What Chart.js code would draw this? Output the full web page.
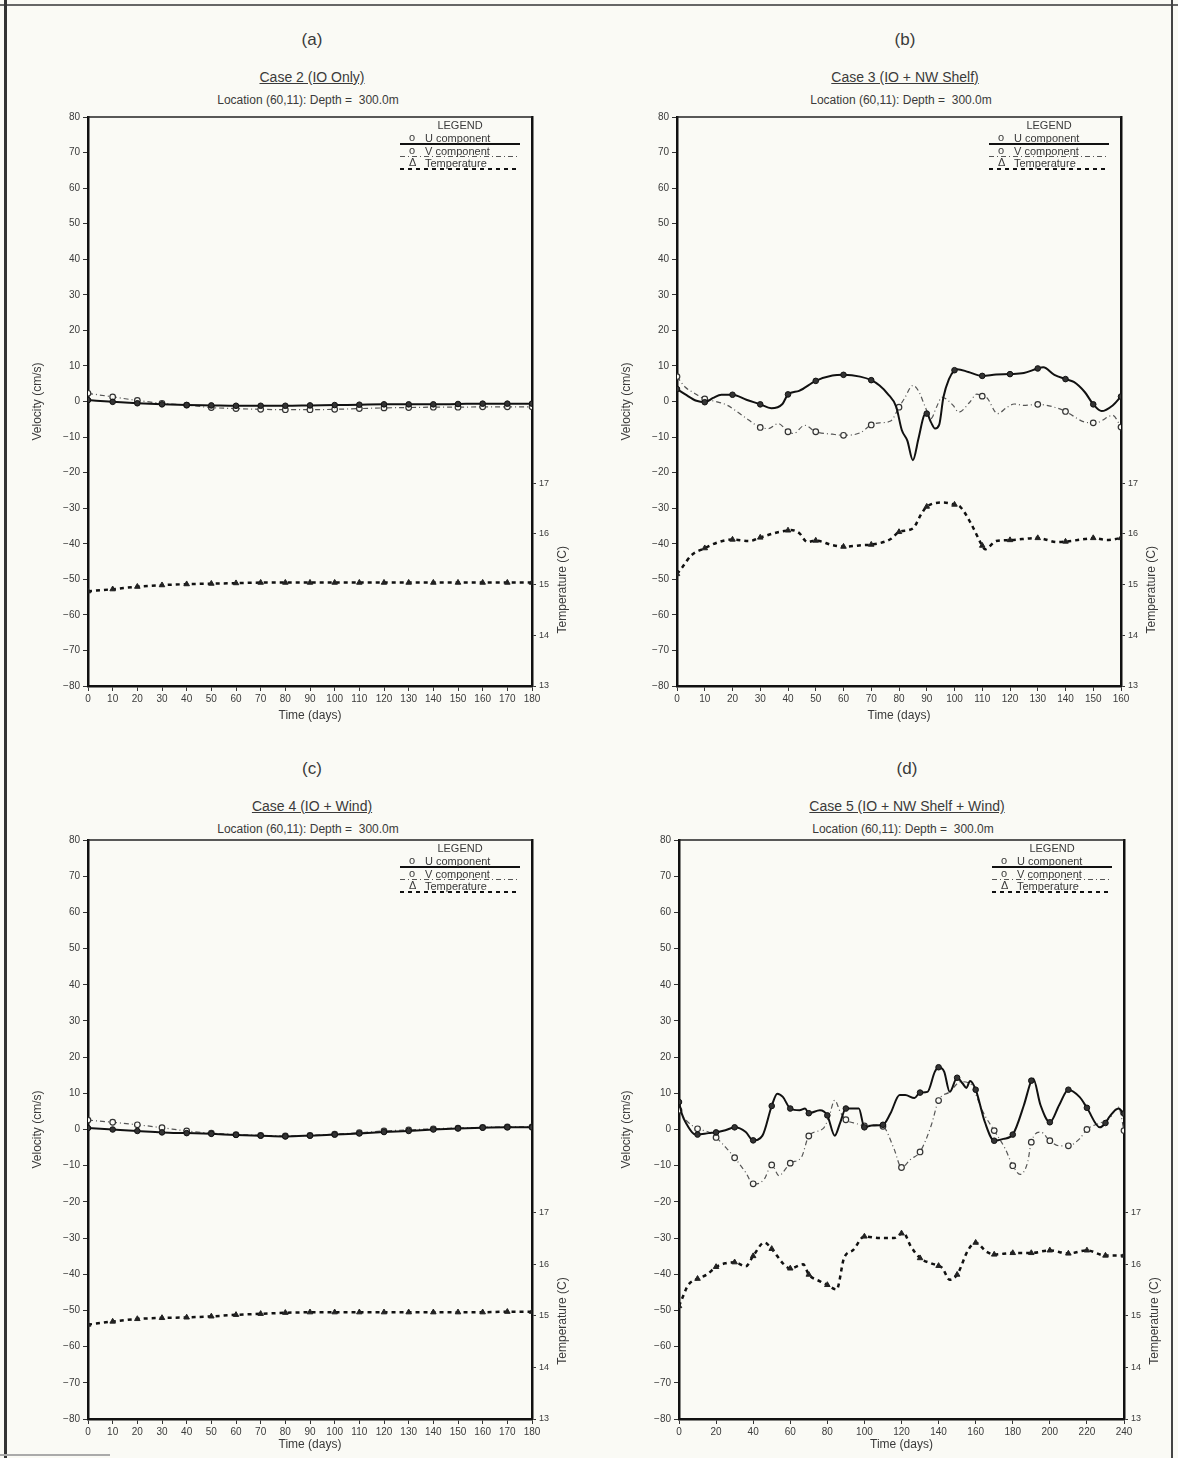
<!DOCTYPE html>
<html>
<head>
<meta charset="utf-8">
<script src="https://cdn.jsdelivr.net/npm/chart.js@4.4.1/dist/chart.umd.min.js"></script>
<style>
  body { margin: 0; background: #fafaf5; }
  #page { position: relative; width: 1178px; height: 1458px; overflow: hidden;
          font-family: "Liberation Sans", Arial, sans-serif; color: #3a3a3a; }
  .panel { position: absolute; width: 589px; height: 729px; }
  .panel canvas { position: absolute; left: 0; top: 0; }
  .txt { position: absolute; transform: translate(-50%, -50%); white-space: pre; }
  .tag { font-size: 17px; }
  .case { font-size: 14px; text-decoration: underline; }
  .loc { font-size: 12px; }
  .line { position: absolute; }
</style>
</head>
<body>
<div id="page">
  <div class="line" style="left:0;top:4px;width:1178px;border-top:2px solid #666"></div>
  <div class="line" style="left:4px;top:0;height:1458px;border-left:3px solid #333"></div>
  <div class="line" style="left:1171px;top:0;height:1458px;border-left:2px solid #444"></div>
  <div class="line" style="left:0;top:1454px;width:110px;border-top:2px solid #aaa"></div>
</div>
<script>
// ---- Case 2 (IO Only)
const aDays = [0, 10, 20, 30, 40, 50, 60, 70, 80, 90, 100, 110, 120, 130, 140, 150, 160, 170, 180];
const aU = [0.4, -0.1, -0.5, -0.8, -1.0, -1.1, -1.2, -1.2, -1.2, -1.1, -1.0, -0.9, -0.8, -0.8, -0.8, -0.7, -0.6, -0.6, -0.6];
const aV = [2.3, 1.3, 0.3, -0.5, -1.0, -1.7, -2.0, -2.2, -2.3, -2.3, -2.2, -2.0, -1.8, -1.7, -1.6, -1.6, -1.5, -1.5, -1.5];
const aT = [14.87, 14.91, 14.96, 14.99, 15.01, 15.02, 15.03, 15.04, 15.04, 15.04, 15.04, 15.04, 15.04, 15.04, 15.04, 15.04, 15.04, 15.04, 15.04];

// ---- Case 3 (IO + NW Shelf)
const bUDays = [0, 3, 7, 10, 13, 16, 20, 25, 30, 34, 38, 40, 44, 50, 56, 60, 66, 70, 73, 76, 79, 81, 83, 85, 87, 89, 90, 91.5, 93, 94.5, 96, 98, 100, 101, 105, 110, 115, 120, 125, 130, 132, 136, 140, 143, 147, 150, 153, 157, 160];
const bU = [3.5, 2.0, 0.2, -0.2, 1.0, 1.9, 1.9, 0.5, -0.8, -1.9, -0.7, 2.0, 3.0, 5.8, 7.3, 7.5, 7.0, 6.0, 4.5, 2.1, -1.5, -8.0, -11, -16.5, -10.5, -4.0, -3.4, -5.8, -7.6, -6.5, 1.2, 6.3, 8.8, 9.1, 8.3, 7.2, 7.6, 7.7, 8.0, 9.3, 9.6, 7.5, 6.3, 5.5, 2.6, -0.8, -2.7, -1.1, 1.4];
const bVDays = [0, 3, 6, 10, 14, 18, 21, 26, 30, 33, 36.5, 40, 42, 46, 50, 56, 60, 66, 70, 73, 77, 80, 82, 85, 87, 89.5, 91.5, 93.5, 95.5, 99.5, 101.5, 105.5, 108, 110, 111.5, 115.5, 119, 121.5, 125, 130, 136, 140, 147, 150, 152, 157, 160];
const bV = [7.0, 4.0, 2.5, 0.7, 0.0, -1.0, -2.5, -5.3, -7.3, -7.6, -6.2, -8.5, -9.0, -6.7, -8.5, -9.2, -9.5, -8.8, -6.6, -6.0, -5.5, -1.6, 0.9, 4.5, 3.0, -1.6, -4.8, -1.6, 1.2, -1.1, -3.0, -0.2, 2.1, 1.5, 1.2, -3.4, -1.6, -0.7, -1.1, -0.8, -1.6, -2.8, -5.8, -6.0, -5.8, -3.9, -7.2];
const bTDays = [0, 2, 5, 10, 15, 20, 26, 30, 36, 40, 41, 44, 47, 50, 56, 60, 67, 70, 77, 80, 85, 88, 90, 96, 100, 102, 106, 110, 111, 115, 120, 130, 137, 140, 147, 150, 155, 160];
const bT = [15.21, 15.35, 15.57, 15.72, 15.84, 15.89, 15.86, 15.93, 16.03, 16.07, 16.08, 16.02, 15.84, 15.87, 15.78, 15.75, 15.78, 15.79, 15.90, 16.04, 16.11, 16.39, 16.54, 16.62, 16.58, 16.54, 16.20, 15.77, 15.70, 15.86, 15.88, 15.92, 15.84, 15.85, 15.90, 15.92, 15.88, 15.92];

// ---- Case 4 (IO + Wind)
const cDays = [0, 10, 20, 30, 40, 50, 60, 70, 80, 90, 100, 110, 120, 130, 140, 150, 160, 170, 180];
const cU = [0.4, 0.0, -0.4, -0.8, -1.0, -1.2, -1.5, -1.7, -1.9, -1.7, -1.4, -1.1, -0.7, -0.4, 0.0, 0.3, 0.5, 0.6, 0.6];
const cV = [2.6, 2.0, 1.3, 0.5, -0.4, -1.0, -1.4, -1.6, -1.8, -1.6, -1.3, -0.9, -0.4, -0.1, 0.2, 0.4, 0.6, 0.7, 0.7];
const cT = [14.83, 14.89, 14.94, 14.96, 14.97, 14.99, 15.02, 15.04, 15.06, 15.07, 15.07, 15.07, 15.07, 15.07, 15.07, 15.07, 15.07, 15.08, 15.08];

// ---- Case 5 (IO + NW Shelf + Wind)
const dUDays = [0, 1.5, 4, 8, 10, 16, 20, 25, 30, 36, 40, 45, 50, 53, 56, 60, 65, 68, 70, 76, 80, 84, 87, 90, 97, 100, 104, 110, 114, 119, 122, 127, 130, 134, 138, 140, 143, 146, 150, 153, 155, 157, 160, 165, 170, 175, 180, 186, 190, 191, 195, 200, 205, 210, 216, 220, 227, 230, 232, 237, 240];
const dU = [7.6, 4.4, 1.6, -1.2, -1.4, -1.0, -0.8, -0.2, 0.6, -0.7, -3.0, -1.7, 6.5, 9.9, 9.0, 5.8, 5.3, 5.8, 4.5, 5.3, 3.9, -1.7, 2.0, 5.8, 5.8, 0.6, 1.1, 1.3, 4.4, 9.5, 9.5, 8.7, 10.2, 10.4, 16.0, 17.2, 16.0, 10.4, 14.3, 12.7, 11.5, 13.4, 11.0, 2.0, -3.1, -2.6, -1.4, 6.7, 13.5, 14.1, 6.7, 2.0, 6.7, 11.0, 9.0, 6.0, 0.6, 1.8, 3.4, 5.8, 4.4];
const dVDays = [0, 3, 10, 16, 20, 26, 30, 36, 40, 42, 46, 50, 54, 56, 60, 66, 70, 78, 81, 84, 87, 90, 96, 100, 105, 110, 116, 120, 125, 130, 136, 140, 146, 152, 158, 161, 164, 170, 176, 180, 184, 188, 190, 195, 200, 205, 210, 216, 220, 228, 232, 237, 240];
const dV = [5.3, 3.0, 0.2, -0.7, -2.2, -5.4, -7.8, -11.9, -15.0, -15.0, -13.7, -9.8, -12.8, -11.9, -9.3, -7.7, -1.8, 0.4, 3.7, 8.1, 4.8, 2.7, 1.6, 1.0, 1.3, 0.9, -5.4, -10.5, -8.2, -6.2, 1.1, 8.0, 10.4, 13.2, 12.3, 8.5, 4.8, -0.3, -5.4, -10.0, -12.4, -9.1, -3.5, -0.7, -3.1, -4.5, -4.5, -2.6, 0.0, 2.0, 3.0, 6.2, -0.3];
const dTDays = [0, 1.5, 5, 10, 15, 20, 25, 30, 36, 40, 46, 50, 56, 60, 67, 70, 76, 80, 85, 89, 94, 100, 108, 116, 120, 121, 125, 130, 136, 140, 142, 146, 150, 156, 160, 166, 170, 180, 190, 200, 210, 220, 230, 240];
const dT = [15.19, 15.32, 15.60, 15.72, 15.80, 15.95, 16.02, 16.04, 15.96, 16.16, 16.42, 16.30, 16.02, 15.92, 16.00, 15.80, 15.67, 15.60, 15.51, 16.12, 16.28, 16.54, 16.51, 16.51, 16.60, 16.61, 16.35, 16.12, 16.02, 15.97, 15.93, 15.70, 15.80, 16.28, 16.42, 16.24, 16.19, 16.22, 16.22, 16.27, 16.21, 16.27, 16.17, 16.17];

// axis values and legend text
const tempTicks = [13, 14, 15, 16, 17];
const seriesLabels = ["U component", "V component", "Temperature"];
const legendMarks = ["o", "o", "\u0394"];
const locationText = "Location (60,11): Depth =  300.0m";

Chart.defaults.font.family = '"Liberation Sans", Arial, sans-serif';
Chart.defaults.color = '#3a3a3a';

const W = 589, H = 729;
const panels = [
  { left: 0, top: 0, tag: "(a)", title: "Case 2 (IO Only)", cx: 312, plot: [88, 532, 117, 686], xMax: 180, xStep: 10,
    u: [aDays, aU], v: [aDays, aV], t: [aDays, aT] },
  { left: 589, top: 0, tag: "(b)", title: "Case 3 (IO + NW Shelf)", cx: 316, plot: [88, 532, 117, 686], xMax: 160, xStep: 10,
    u: [bUDays, bU], v: [bVDays, bV], t: [bTDays, bT] },
  { left: 0, top: 729, tag: "(c)", title: "Case 4 (IO + Wind)", cx: 312, plot: [88, 532, 111, 690], xMax: 180, xStep: 10,
    u: [cDays, cU], v: [cDays, cV], t: [cDays, cT] },
  { left: 589, top: 729, tag: "(d)", title: "Case 5 (IO + NW Shelf + Wind)", cx: 318, plot: [90, 535, 111, 690], xMax: 240, xStep: 20,
    u: [dUDays, dU], v: [dVDays, dV], t: [dTDays, dT] }
];

const points = (days, vals) => days.map((d, i) => ({ x: d, y: vals[i] }));
const marked = r => ctx => (ctx.raw && ctx.raw.x % 10 === 0) ? r : 0;
const minus = v => String(v).replace('-', '\u2212');

const deco = {
  id: 'deco',
  afterDraw(chart) {
    const { ctx, chartArea: a } = chart;
    ctx.save();
    ctx.strokeStyle = '#222';
    ctx.lineWidth = 1.5;
    ctx.beginPath();
    ctx.moveTo(a.left, a.top);
    ctx.lineTo(a.right, a.top);
    ctx.stroke();

    // right axis title, centred near 15 C like the original
    ctx.save();
    ctx.translate(a.right + 31, chart.scales.yT.getPixelForValue(14.9));
    ctx.rotate(-Math.PI / 2);
    ctx.font = '12px "Liberation Sans"';
    ctx.fillStyle = '#3a3a3a';
    ctx.textAlign = 'center';
    ctx.textBaseline = 'middle';
    ctx.fillText('Temperature (C)', 0, 0);
    ctx.restore();

    // legend box
    ctx.font = '11px "Liberation Sans"';
    ctx.fillStyle = '#3a3a3a';
    ctx.textAlign = 'center';
    ctx.fillText('LEGEND', a.right - 72, a.top + 12);
    chart.data.datasets.forEach((ds, i) => {
      const y = a.top + 25 + i * 12.5;
      const x0 = a.right - 132, x1 = a.right - 12;
      ctx.strokeStyle = ds.borderColor;
      ctx.lineWidth = Math.min(ds.borderWidth, 1.8);
      ctx.setLineDash(ds.borderDash || []);
      ctx.beginPath();
      ctx.moveTo(x0, y + 2);
      ctx.lineTo(x1, y + 2);
      ctx.stroke();
      ctx.setLineDash([]);
      ctx.textAlign = 'left';
      ctx.fillText(legendMarks[i], x0 + 9, y - 1);
      ctx.fillText(ds.label, x0 + 25, y);
    });
    ctx.restore();
  }
};

const page = document.getElementById('page');

panels.forEach((p, k) => {
  const box = document.createElement('div');
  box.className = 'panel';
  box.style.left = p.left + 'px';
  box.style.top = p.top + 'px';
  box.innerHTML =
    '<div class="txt tag" style="left:' + p.cx + 'px;top:40px">' + p.tag + '</div>' +
    '<div class="txt case" style="left:' + p.cx + 'px;top:77px">' + p.title + '</div>' +
    '<div class="txt loc" style="left:' + (p.cx - 4) + 'px;top:100px">' + locationText + '</div>' +
    '<canvas id="c' + k + '" width="' + W + '" height="' + H + '"></canvas>';
  page.appendChild(box);

  const [pl, pr, pt, pb] = p.plot;
  const tickGrid = { drawOnChartArea: false, drawTicks: true, tickLength: 5, color: '#333' };
  const border = { display: true, color: '#111', width: 2.5 };

  new Chart(document.getElementById('c' + k), {
    type: 'line',
    data: {
      datasets: [
        { label: seriesLabels[0], data: points(...p.u), yAxisID: 'y',
          borderColor: '#111', borderWidth: 2, cubicInterpolationMode: 'monotone',
          pointStyle: 'circle', pointRadius: marked(2.8), pointBackgroundColor: '#333', pointBorderColor: '#111', pointBorderWidth: 1 },
        { label: seriesLabels[1], data: points(...p.v), yAxisID: 'y',
          borderColor: '#555', borderWidth: 1.2, borderDash: [5, 3, 1, 3], cubicInterpolationMode: 'monotone',
          pointStyle: 'circle', pointRadius: marked(2.8), pointBackgroundColor: '#fafaf5', pointBorderColor: '#333', pointBorderWidth: 1.2 },
        { label: seriesLabels[2], data: points(...p.t), yAxisID: 'yT',
          borderColor: '#111', borderWidth: 2.5, borderDash: [4, 4], cubicInterpolationMode: 'monotone',
          pointStyle: 'triangle', pointRadius: marked(3.2), pointBackgroundColor: '#222', pointBorderColor: '#222', pointBorderWidth: 1 }
      ]
    },
    options: {
      responsive: false,
      animation: false,
      layout: { padding: { left: 26, right: 0, top: pt, bottom: 2 } },
      plugins: { legend: { display: false }, tooltip: { enabled: false } },
      scales: {
        x: {
          type: 'linear', min: 0, max: p.xMax,
          ticks: { stepSize: p.xStep, autoSkip: false, maxRotation: 0, padding: 2, font: { size: 10 } },
          grid: tickGrid, border: border,
          title: { display: true, text: 'Time (days)', font: { size: 12 }, padding: { top: 2, bottom: 4 } },
          afterFit: s => { s.height = H - 2 - pb; }
        },
        y: {
          position: 'left', min: -80, max: 80,
          ticks: { stepSize: 10, padding: 3, font: { size: 10 }, callback: minus },
          grid: tickGrid, border: border,
          title: { display: true, text: 'Velocity (cm/s)', font: { size: 12 }, padding: { top: 4, bottom: 4 } },
          afterFit: s => { s.width = pl - 26; }
        },
        yT: {
          position: 'right', min: 13, max: 13 + 160 / 14.25,
          afterBuildTicks: s => { s.ticks = tempTicks.map(v => ({ value: v })); },
          ticks: { padding: 3, font: { size: 9 } },
          grid: { drawOnChartArea: false, drawTicks: true, tickLength: 4, color: '#333' },
          border: border,
          afterFit: s => { s.width = W - pr; }
        }
      }
    },
    plugins: [deco]
  });
});
</script>
</body>
</html>
